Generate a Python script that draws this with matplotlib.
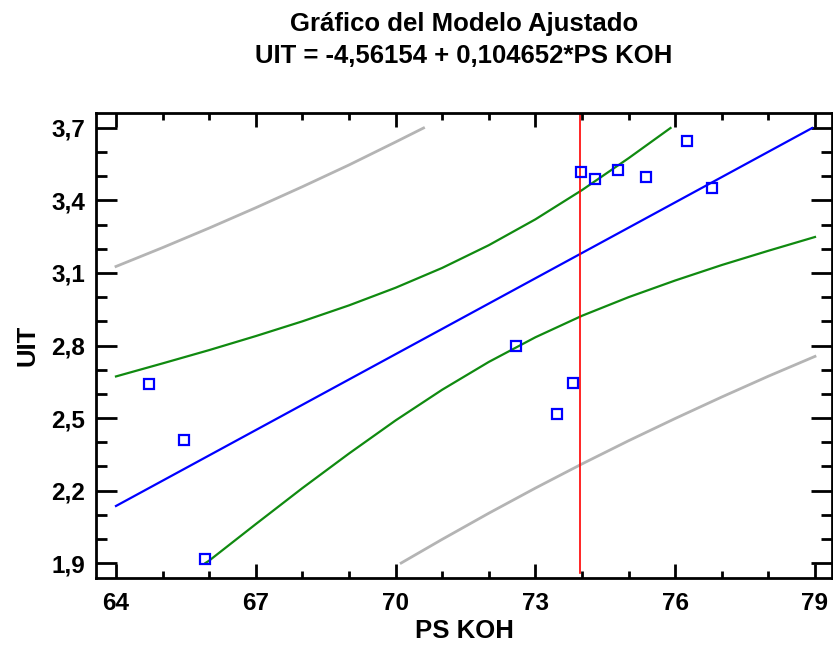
import matplotlib
matplotlib.use("Agg")
import matplotlib.pyplot as plt
from matplotlib.ticker import FixedLocator, FuncFormatter

# observed points (PS KOH, UIT)
ps_koh = [64.71, 65.47, 65.90, 72.58, 73.46, 73.81, 73.98, 74.28, 74.77, 75.37, 76.25, 76.79]
uit = [2.641, 2.411, 1.917, 2.798, 2.518, 2.646, 3.518, 3.489, 3.526, 3.497, 3.645, 3.451]

# fitted line, read at its two ends
fit_x = [64.0, 78.94]
fit_y = [2.136, 3.700]

# confidence limits (green)
conf_up_x = [64, 65, 66, 67, 68, 69, 70, 71, 72, 73, 74, 75, 75.9]
conf_up_y = [2.672, 2.726, 2.781, 2.839, 2.900, 2.966, 3.039, 3.121, 3.215, 3.322, 3.443, 3.575, 3.700]
conf_lo_x = [65.92, 66, 67, 68, 69, 70, 71, 72, 73, 74, 75, 76, 77, 78, 79]
conf_lo_y = [1.900, 1.910, 2.061, 2.210, 2.353, 2.490, 2.617, 2.732, 2.834, 2.923, 3.000, 3.069, 3.133, 3.192, 3.249]

# prediction limits (grey)
pred_up_x = [64, 65, 66, 67, 68, 69, 70, 70.6]
pred_up_y = [3.127, 3.205, 3.286, 3.370, 3.457, 3.547, 3.642, 3.700]
pred_lo_x = [70.12, 71, 72, 73, 74, 75, 76, 77, 78, 79]
pred_lo_y = [1.900, 1.998, 2.106, 2.210, 2.310, 2.406, 2.498, 2.587, 2.673, 2.755]

marker_x = 73.96

x_major = [64, 67, 70, 73, 76, 79]
x_minor = list(range(64, 80))
y_major = [1.9, 2.2, 2.5, 2.8, 3.1, 3.4, 3.7]
y_minor = [round(1.9 + 0.1 * i, 1) for i in range(19)]

plt.rcParams["font.family"] = ["Liberation Sans", "DejaVu Sans"]
plt.rcParams["font.weight"] = "bold"

fig = plt.figure(figsize=(8.33, 6.45), dpi=100)
ax = fig.add_axes([96 / 833, 1 - 578 / 645, 736 / 833, 465 / 645])

ax.plot(pred_up_x, pred_up_y, color="#b4b4b4", lw=2)
ax.plot(pred_lo_x, pred_lo_y, color="#b4b4b4", lw=2)
ax.plot(conf_up_x, conf_up_y, color="#108a10", lw=1.6)
ax.plot(conf_lo_x, conf_lo_y, color="#108a10", lw=1.6)
ax.plot(fit_x, fit_y, color="#0000ff", lw=1.6)
ax.axvline(marker_x, ymin=0.01, ymax=1, color="#ff0000", lw=1.2)
ax.plot(ps_koh, uit, ls="none", marker="s", ms=6.5, mfc="none", mec="#0000ff", mew=1.6)

ax.set_xlim(63.571, 79.365)
ax.set_ylim(1.838, 3.762)

ax.xaxis.set_major_locator(FixedLocator(x_major))
ax.xaxis.set_minor_locator(FixedLocator(x_minor))
ax.yaxis.set_major_locator(FixedLocator(y_major))
ax.yaxis.set_minor_locator(FixedLocator(y_minor))
ax.yaxis.set_major_formatter(FuncFormatter(lambda v, p: f"{v:.1f}".replace(".", ",")))
ax.xaxis.set_major_formatter(FuncFormatter(lambda v, p: f"{v:.0f}"))

ax.tick_params(axis="both", which="both", direction="in", top=True, right=True, width=2,
               labelsize=17.5, colors="black")
ax.tick_params(axis="x", which="major", length=10, pad=10)
ax.tick_params(axis="x", which="minor", length=5)
ax.tick_params(axis="y", which="major", length=15, pad=8)
ax.tick_params(axis="y", which="minor", length=8)
for s in ax.spines.values():
    s.set_linewidth(2)

ax.set_xlabel("PS KOH", fontsize=18.5, fontweight="bold", labelpad=3)
ax.set_ylabel("UIT", fontsize=18.5, fontweight="bold", labelpad=8)

fig.text(464 / 833, 1 - 24 / 645, "Gráfico del Modelo Ajustado", ha="center", va="center",
         fontsize=18.5, fontweight="bold")
fig.text(464 / 833, 1 - 56 / 645, "UIT = -4,56154 + 0,104652*PS KOH", ha="center", va="center",
         fontsize=18.5, fontweight="bold")

fig.savefig("out.png", dpi=100)
